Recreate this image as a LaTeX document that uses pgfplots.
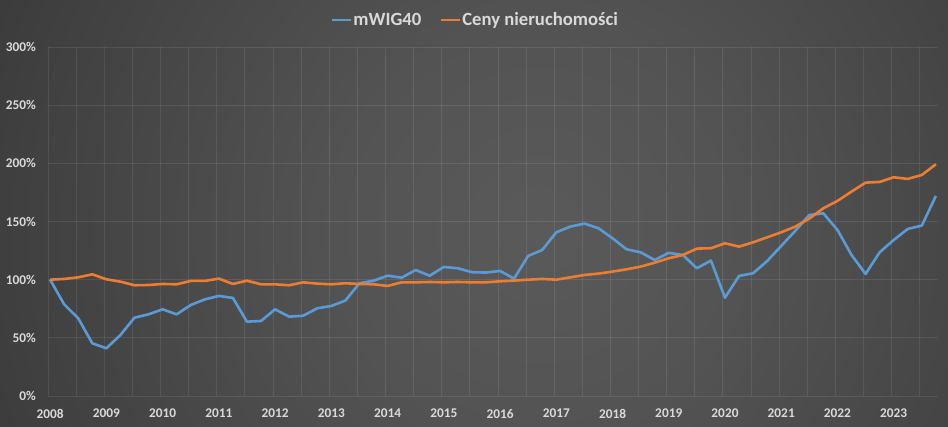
\documentclass[border=0pt]{standalone}
\usepackage{pgfplots}
\pgfplotsset{compat=1.18}
\usepackage{fontspec}
\setmainfont{Carlito}
\definecolor{txt}{HTML}{D9D9D9}
\definecolor{mblue}{HTML}{5B9BD5}
\definecolor{morange}{HTML}{ED7D31}
\definecolor{bga}{HTML}{5A5A5A}
\definecolor{bgb}{HTML}{535353}
\definecolor{bgc}{HTML}{404040}
\definecolor{bgd}{HTML}{2C2C2C}
\definecolor{bge}{HTML}{252525}
\pgfdeclareradialshading{bgshade}{\pgfpoint{0bp}{0bp}}{color(0bp)=(bga); color(7.4bp)=(bgb); color(18.6bp)=(bgc); color(29.7bp)=(bgd); color(37.1bp)=(bge); color(50bp)=(bge)}
\begin{document}
\begin{tikzpicture}
\begin{scope}
\clip (0,0) rectangle (948pt,427pt);
\shade[shading=bgshade] (540pt,197pt) circle (700pt);
\end{scope}
\path[use as bounding box] (0,0) rectangle (948pt,427pt);
\begin{axis}[
  at={(48pt,31pt)}, anchor=south west,
  width=890pt, height=349pt, scale only axis,
  xmin=-0.15, xmax=63.15, ymin=0, ymax=300,
  axis line style={draw=none},
  major tick length=0pt,
  ytick={0,50,...,300},
  yticklabels={0\%,50\%,100\%,150\%,200\%,250\%,300\%},
  ymajorgrids,
  grid style={white, opacity=0.09, line width=0.8pt},
  xtick={0,4,...,60},
  xticklabels={2008,2009,2010,2011,2012,2013,2014,2015,2016,2017,2018,2019,2020,2021,2022,2023},
  extra x ticks={-0.15,1.85,...,61.9},
  extra x tick labels={},
  extra x tick style={xmajorgrids=true, ymajorgrids=false, major tick length=0pt},
  tick label style={font=\fontsize{13.33}{16}\selectfont\bfseries, text=txt},
  yticklabel style={anchor=east, inner sep=0pt, xshift=-12pt},
  xticklabel style={anchor=north, inner sep=0pt, yshift=-13pt},
  legend columns=2,
  legend style={at={(0.48,1.0774)}, anchor=center, draw=none, fill=none,
    text=txt, font=\fontsize{18.67}{22}\selectfont\bfseries,
    inner sep=0pt, nodes={inner sep=1pt}},
  /tikz/every even column/.append style={column sep=18pt},
  legend image code/.code={\draw[#1, line width=2pt] (0pt,0pt) -- (19pt,0pt);},
]
\addplot[mblue, line width=2.6pt, line join=round, mark=none] coordinates {
(0,100) (1,78.8) (2,66.8) (3,45.3) (4,41) (5,52.4) (6,67.3) (7,70.2) (8,74.5) (9,70.2)
(10,78.2) (11,83) (12,86) (13,84.3) (14,63.9) (15,64.5) (16,74.5) (17,68.2) (18,69) (19,75.4)
(20,77.4) (21,82) (22,96.9) (23,99.1) (24,103.4) (25,101.7) (26,108.3) (27,103.4) (28,110.9) (29,109.8)
(30,106.4) (31,106.1) (32,107.5) (33,100.9) (34,120.4) (35,125.5) (36,140.7) (37,145.6) (38,148.2) (39,144.2)
(40,135.6) (41,126.1) (42,123.5) (43,116.9) (44,123) (45,121.2) (46,109.8) (47,116.4) (48,84.5) (49,103.2)
(50,105.5) (51,116) (52,129) (53,142) (54,155.6) (55,157) (56,142.7) (57,121.2) (58,104.9) (59,123.5)
(60,134.1) (61,143.6) (62,146.5) (63,172)
};
\addlegendentry{mWIG40}
\addplot[morange, line width=2.6pt, line join=round, mark=none] coordinates {
(0,100) (1,100.6) (2,102) (3,104.6) (4,100.3) (5,98.3) (6,95.2) (7,95.4) (8,96.3) (9,96)
(10,98.9) (11,98.9) (12,100.9) (13,96.3) (14,99.1) (15,96) (16,96) (17,95.2) (18,97.7) (19,96.6)
(20,96) (21,96.9) (22,96.3) (23,96) (24,94.6) (25,97.7) (26,97.7) (27,98) (28,97.7) (29,98)
(30,97.7) (31,97.7) (32,98.6) (33,99.2) (34,100) (35,100.6) (36,100) (37,102) (38,104) (39,105.2)
(40,106.9) (41,108.9) (42,111.2) (43,114.6) (44,118.4) (45,121.2) (46,126.7) (47,127) (48,131.3) (49,128.4)
(50,132.1) (51,136.4) (52,140.7) (53,145.6) (54,152.5) (55,161.4) (56,167.7) (57,175.7) (58,183.4) (59,184)
(60,188) (61,186.6) (62,190) (63,199.2)
};
\addlegendentry{Ceny nieruchomości}
\end{axis}
\end{tikzpicture}
\end{document}
